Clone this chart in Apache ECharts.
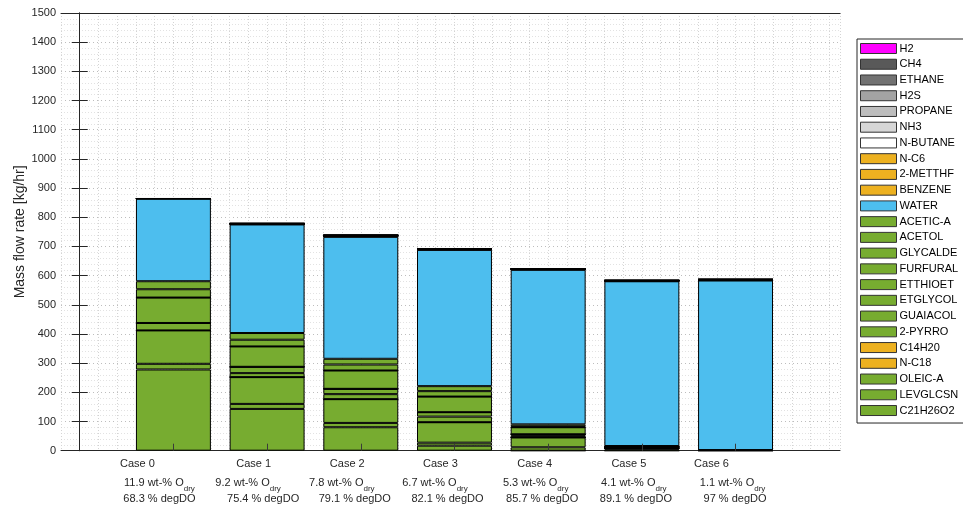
<!DOCTYPE html>
<html>
<head>
<meta charset="utf-8">
<script src="https://cdn.jsdelivr.net/npm/echarts@6/dist/echarts.min.js"></script>
<style>
  html, body { margin: 0; padding: 0; background: #fff; }
  #chart { width: 963px; height: 509px; }
</style>
</head>
<body>
<div id="chart"></div>
<script>
// Case descriptors shown under each bar
const caseLabels = ['Case 0', 'Case 1', 'Case 2', 'Case 3', 'Case 4', 'Case 5', 'Case 6'];
const oxygenDry  = [11.9, 9.2, 7.8, 6.7, 5.3, 4.1, 1.1];   // wt-% O (dry basis)
const degDO      = [68.3, 75.4, 79.1, 82.1, 85.7, 89.1, 97]; // % degree of deoxygenation

// Mass flow rates [kg/hr] per component, Case 0 .. Case 6
const H2       = [0.01, 0.1, 0.1, 0.1, 0.1, 0.1, 0.1];
const CH4      = [0.02, 0.2, 0.3, 0.3, 0.2, 0.2, 0.3];
const ETHANE   = [0.02, 0.3, 0.4, 0.3, 0.3, 0.3, 0.3];
const H2S      = [0.05, 0.5, 0.7, 0.5, 0.5, 0.4, 0.5];
const PROPANE  = [0.05, 0.3, 0.5, 0.3, 0.3, 0.3, 0.4];
const NH3      = [0.05, 0.6, 0.9, 0.6, 0.6, 0.5, 0.7];
const NBUTANE  = [0.05, 0.3, 0.5, 0.4, 0.4, 0.3, 0.4];
const NC6      = [0.05, 0.4, 0.6, 0.5, 0.4, 0.4, 0.5];
const METTHF   = [0.1, 0.8, 1.2, 0.9, 0.8, 0.7, 0.8];
const BENZENE  = [0.1, 0.5, 0.8, 0.6, 0.5, 0.4, 0.5];
const WATER    = [283.0, 372.0, 418.0, 467.0, 529.7, 564.6, 581.0];
const ACETICA  = [27.5, 23.0, 19.6, 17.1, 6.9, 1.2, 0.2];
const ACETOL   = [28.5, 23.0, 20.6, 18.6, 3.0, 1.0, 0.2];
const GLYCALDE = [0, 0, 0, 0, 0, 0, 0];
const FURFURAL = [87.1, 69.8, 62.8, 53.6, 24.1, 2.0, 0.3];
const ETTHIOET = [0, 0, 0, 0, 0, 0, 0];
const ETGLYCOL = [0, 0, 0, 0, 0, 0, 0];
const GUAIACOL = [0, 21.6, 18.2, 15.1, 5.5, 2.0, 0.3];
const PYRRO    = [25.5, 13.8, 17.2, 19.2, 5.5, 2.0, 0.3];
const C14H20   = [0, 0, 0, 0, 0, 0, 0];
const NC18     = [0, 0, 0, 0, 0, 0, 0];
const OLEICA   = [114.4, 91.7, 81.4, 70.1, 33.6, 3.0, 0.4];
const LEVGLCSN = [19.5, 17.2, 14.8, 10.3, 11.7, 4.8, 0.5];
const C21H26O2 = [278.3, 143.2, 80.4, 17.2, 0, 0, 0];

// Legend order (top to bottom); the stack is built in the reverse order
const components = [
  ['H2', H2], ['CH4', CH4], ['ETHANE', ETHANE], ['H2S', H2S], ['PROPANE', PROPANE],
  ['NH3', NH3], ['N-BUTANE', NBUTANE], ['N-C6', NC6], ['2-METTHF', METTHF],
  ['BENZENE', BENZENE], ['WATER', WATER], ['ACETIC-A', ACETICA], ['ACETOL', ACETOL],
  ['GLYCALDE', GLYCALDE], ['FURFURAL', FURFURAL], ['ETTHIOET', ETTHIOET],
  ['ETGLYCOL', ETGLYCOL], ['GUAIACOL', GUAIACOL], ['2-PYRRO', PYRRO],
  ['C14H20', C14H20], ['N-C18', NC18], ['OLEIC-A', OLEICA], ['LEVGLCSN', LEVGLCSN],
  ['C21H26O2', C21H26O2]
];

// Fill colour per component
const GREEN = '#77AC30', YELLOW = '#EDB120', BLUE = '#4DBEEE';
const colors = {
  'H2': '#FF00FF', 'CH4': '#595959', 'ETHANE': '#727272', 'H2S': '#A3A3A3',
  'PROPANE': '#BDBDBD', 'NH3': '#D6D6D6', 'N-BUTANE': '#FFFFFF',
  'N-C6': YELLOW, '2-METTHF': YELLOW, 'BENZENE': YELLOW, 'WATER': BLUE,
  'C14H20': YELLOW, 'N-C18': YELLOW
};

// Horizontal nudge (px) of each label line relative to its tick
const shiftLine1 = [-36, -13.5, -13.5, -14, -13.5, -13, -24];
const shiftLine2 = [-14, -19, -19, -19.5, -12.5, -8, -3];
const shiftLine3 = [-14, -4, -6, -7, -6, -6, -0.5];

const FONT = '"Liberation Sans", Arial, Helvetica, sans-serif';
const TXT = '#262626';

const rich = {
  c1:  { fontFamily: FONT, fontSize: 11, color: TXT, lineHeight: 22, align: 'center' },
  c2:  { fontFamily: FONT, fontSize: 11, color: TXT, lineHeight: 16, align: 'center' },
  sub: { fontFamily: FONT, fontSize: 8,  color: TXT, lineHeight: 4, padding: [12, 0, 0, 0], align: 'center' },
  c3:  { fontFamily: FONT, fontSize: 11, color: TXT, lineHeight: 16, align: 'center' }
};
for (let n = 1; n <= 90; n++) {
  rich['g' + n] = { width: n, fontSize: 1, lineHeight: 1, align: 'center' };
}

function shifted(text, shift) {
  const w = Math.round(Math.abs(shift) * 2);
  if (!w) return text;
  const spacer = '{g' + w + '| }';
  return shift < 0 ? text + spacer : spacer + text;
}

function caseLabel(value, i) {
  return [
    shifted('{c1|' + caseLabels[i] + '}', shiftLine1[i]),
    shifted('{c2|' + oxygenDry[i] + ' wt-% O}{sub|dry}', shiftLine2[i]),
    shifted('{c3|' + degDO[i] + ' % degDO}', shiftLine3[i])
  ].join('\n');
}

// Plot box geometry: x runs from -0.2 to 8.115 with cases at 1..7
const BOX = { left: 61, right: 123, top: 13, bottom: 58.3 };
const X_MIN = -0.2, X_MAX = 8.115;
const unitPx = (963 - BOX.left - BOX.right) / (X_MAX - X_MIN);
const barGridLeft = BOX.left + (0.5 - X_MIN) * unitPx;
const barGridRight = 963 - (barGridLeft + caseLabels.length * unitPx);

// Bottom of the stack first
const series = components.slice().reverse().map(([name, values]) => ({
  name: name,
  type: 'bar',
  stack: 'flow',
  barWidth: '80%',
  xAxisIndex: 2,
  yAxisIndex: 2,
  itemStyle: { color: colors[name] || GREEN, borderColor: '#000', borderWidth: 1 },
  emphasis: { disabled: true },
  data: values
}));

const chart = echarts.init(document.getElementById('chart'), null, { renderer: 'canvas' });
chart.setOption({
  animation: false,
  backgroundColor: '#fff',
  textStyle: { fontFamily: FONT },
  grid: [
    { left: BOX.left, right: BOX.right, top: BOX.top, bottom: BOX.bottom, outerBoundsMode: 'none' },
    { left: barGridLeft, right: barGridRight, top: BOX.top, bottom: BOX.bottom, outerBoundsMode: 'none' }
  ],
  legend: {
    orient: 'vertical',
    left: 857, top: 39,
    data: components.map(c => c[0]),
    icon: 'rect',
    itemWidth: 36, itemHeight: 10, itemGap: 4.74,
    padding: [4, 6, 7, 3],
    selectedMode: false,
    borderColor: '#262626', borderWidth: 1, borderRadius: 0,
    backgroundColor: '#fff',
    itemStyle: { borderColor: '#333', borderWidth: 1 },
    textStyle: { fontFamily: FONT, fontSize: 11, color: '#000', padding: [0, 0, 0, -2] }
  },
  xAxis: [{
    // plot box: bottom edge with minor vertical grid
    gridIndex: 0,
    type: 'value',
    min: X_MIN, max: X_MAX, interval: 0.2,
    position: 'bottom',
    axisLine: { show: true, onZero: false, lineStyle: { color: '#262626', width: 1 } },
    axisTick: { show: false },
    axisLabel: { show: false },
    splitLine: { show: true, lineStyle: { type: [1, 2], color: '#d4d4d4', width: 1 } }
  }, {
    // plot box: top edge
    gridIndex: 0,
    type: 'value',
    min: X_MIN, max: X_MAX, interval: 0.2,
    position: 'top',
    axisLine: { show: true, onZero: false, lineStyle: { color: '#262626', width: 1 } },
    axisTick: { show: false },
    axisLabel: { show: false },
    splitLine: { show: false }
  }, {
    // cases
    gridIndex: 1,
    type: 'category',
    data: caseLabels,
    position: 'bottom',
    z: 10,
    axisLine: { show: false },
    axisTick: { show: true, inside: true, length: 7, alignWithLabel: true, lineStyle: { color: '#3a3a3a' } },
    axisLabel: { formatter: caseLabel, rich: rich, margin: 2, color: TXT, interval: 0 },
    splitLine: { show: false }
  }],
  yAxis: [{
    gridIndex: 0,
    type: 'value',
    min: 0, max: 1500, interval: 100,
    position: 'left',
    name: 'Mass flow rate [kg/hr]',
    nameLocation: 'middle',
    nameGap: 34,
    nameMoveOverlap: false,
    nameTextStyle: { fontFamily: FONT, fontSize: 14, color: TXT },
    axisLine: { show: true, lineStyle: { color: '#262626', width: 1 } },
    axisTick: { show: true, inside: true, length: 8, lineStyle: { color: '#262626' } },
    axisLabel: { fontFamily: FONT, fontSize: 11, color: TXT, margin: 5, formatter: v => String(v) },
    splitLine: { show: true, lineStyle: { type: [1, 3], color: '#bdbdbd', width: 1 } },
    minorTick: { show: false, splitNumber: 5 },
    minorSplitLine: { show: true, lineStyle: { type: [1, 2], color: '#e2e2e2', width: 1 } }
  }, {
    gridIndex: 0,
    type: 'value',
    min: 0, max: 1500, interval: 100,
    position: 'right',
    axisLine: { show: true, lineStyle: { color: '#262626', width: 1 } },
    axisTick: { show: true, inside: true, length: 8, lineStyle: { color: '#262626' } },
    axisLabel: { show: false },
    splitLine: { show: false }
  }, {
    gridIndex: 1,
    type: 'value',
    min: 0, max: 1500, interval: 100,
    show: false
  }],
  series: series
});
</script>
</body>
</html>
